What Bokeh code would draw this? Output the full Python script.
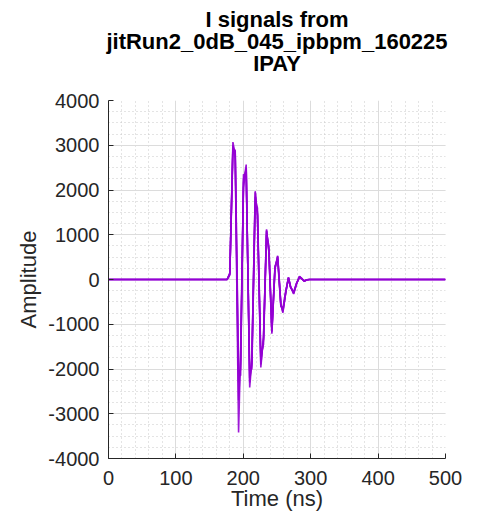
from bokeh.plotting import figure
from bokeh.models import Range1d, Title, PrintfTickFormatter
from bokeh.embed import file_html
from bokeh.resources import INLINE

title_lines = ["I signals from", "jitRun2_0dB_045_ipbpm_160225", "IPAY"]
x_label = "Time (ns)"
y_label = "Amplitude"

time_ns = [0, 100, 176, 180, 184.6, 188, 193, 196, 200.3, 204.3, 209.5, 212.7,
           217.7, 221, 226, 230, 234.5, 238, 242.4, 247, 251, 255.7, 258.7,
           263, 267, 270, 274.7, 279, 283.4, 287, 290.4, 294, 298, 400, 500]

trace_a = [0, 0, 0, 150, 3070, 2790, -3418, -1582, 2160, 2567, -2411, -1804,
           1974, 1418, -1967, -1285, 1122, 600, -1211, 233, 530, -544, -744,
           -300, 48, -150, -322, -100, 70, 20, -40, -10, 0, 0, 0]
trace_b = [0, 0, 0, 120, 2950, 2850, -2300, -2000, 2250, 2450, -2200, -1900,
           1850, 1500, -1800, -1350, 1080, 650, -1150, 260, 500, -560, -700,
           -280, 40, -160, -300, -90, 60, 15, -35, -10, 0, 0, 0]
trace_c = [0, 0, 0, 100, 2850, 2900, -2000, -2150, 2350, 2300, -2050, -2000,
           1700, 1600, -1700, -1450, 1000, 750, -1100, 300, 450, -600, -650,
           -250, 30, -180, -280, -80, 55, 10, -30, -5, 0, 0, 0]
trace_d = [0, 0, 0, 130, 3000, 2700, -2700, -1800, 2050, 2500, -2300, -1750,
           1950, 1450, -1900, -1300, 1100, 620, -1180, 240, 520, -550, -720,
           -290, 45, -155, -310, -95, 65, 18, -38, -8, 0, 0, 0]

traces = [trace_a, trace_b, trace_c, trace_d]
line_color = "#9400D3"
text_color = "#262626"
font = "Liberation Sans"

p = figure(width=479, height=513, output_backend="svg", toolbar_location=None,
           x_range=Range1d(0, 500), y_range=Range1d(-4000, 4000),
           min_border_left=108, min_border_right=34, min_border_bottom=52,
           min_border_top=100, background_fill_color="white",
           border_fill_color="white", outline_line_color=None)

# blank spacer panel between the frame and the title block
p.add_layout(Title(text=" ", align="center", text_font=font,
                   text_font_size="22px", text_font_style="bold",
                   standoff=0), "above")
for t in reversed(title_lines):
    p.add_layout(Title(text=t, align="center", text_font=font,
                       text_font_size="22px", text_font_style="bold",
                       text_color="black", standoff=-5.3, offset=0), "above")

for tr in traces:
    p.line(time_ns, tr, line_color=line_color, line_width=1.6, line_alpha=0.9)

p.xaxis.ticker.desired_num_ticks = 6
p.xaxis.ticker.num_minor_ticks = 5
p.yaxis.ticker.num_minor_ticks = 4
p.xaxis.formatter = PrintfTickFormatter(format="%d")
p.yaxis.formatter = PrintfTickFormatter(format="%d")

for ax in (p.xaxis, p.yaxis):
    ax.axis_line_color = text_color
    ax.major_tick_line_color = text_color
    ax.major_tick_in = 5
    ax.major_tick_out = 0
    ax.minor_tick_in = 0
    ax.minor_tick_out = 0
    ax.major_label_text_font = font
    ax.major_label_text_font_size = "20px"
    ax.major_label_text_color = text_color
    ax.axis_label_text_font = font
    ax.axis_label_text_font_size = "22px"
    ax.axis_label_text_font_style = "normal"
    ax.axis_label_text_color = text_color

p.xaxis.axis_label = x_label
p.yaxis.axis_label = y_label
p.xaxis.major_label_standoff = 12
p.yaxis.major_label_standoff = 9
p.xaxis.axis_label_standoff = -2
p.yaxis.axis_label_standoff = 4

p.xgrid.grid_line_color = "#dcdcdc"
p.ygrid.grid_line_color = "#dcdcdc"
p.xgrid.minor_grid_line_color = "#c8c8c8"
p.ygrid.minor_grid_line_color = "#c8c8c8"
p.xgrid.minor_grid_line_dash = "1 3"
p.ygrid.minor_grid_line_dash = "1 3"

open("out.html", "w").write(file_html(p, INLINE))
